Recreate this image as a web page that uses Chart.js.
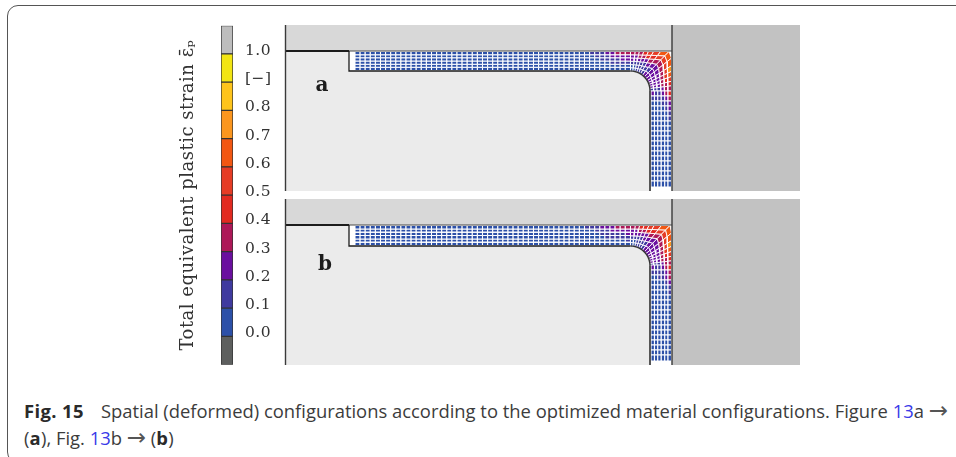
<!DOCTYPE html>
<html>
<head>
<meta charset="utf-8">
<script src="https://cdn.jsdelivr.net/npm/chart.js@4"></script>
<style>
    html, body { margin: 0; padding: 0; width: 956px; height: 457px; overflow: hidden; background: #fff; }
    canvas { position: absolute; }
    #frame { position: absolute; left: 7px; top: 5px; width: 1000px; height: 456px; border: 1.5px solid #555; border-radius: 11px; }
    .caption { position: absolute; left: 24px; font-family: "Open Sans", sans-serif; font-size: 18.4px; color: #3c3c3c; white-space: nowrap; line-height: 22px; }
    .caption a { color: #3a3ae8; text-decoration: none; }
    .caption b { letter-spacing: 0.4px; color: #2a2a2a; }
    .caption i { font-style: normal; font-family: "DejaVu Sans", sans-serif; font-size: 23px; line-height: 20px; color: #555; }
    .caption u { text-decoration: none; display: inline-block; width: 17px; }
</style>
</head>
<body>
<div id="frame"></div>
<canvas id="scale-bar" width="110" height="360" style="left:170px;top:15px"></canvas>
<canvas id="panel-a" width="525" height="176" style="left:280px;top:20px"></canvas>
<canvas id="panel-b" width="525" height="176" style="left:280px;top:194px"></canvas>
<div class="caption" style="top:400px"><b>Fig. 15</b><u></u>Spatial (deformed) configurations according to the optimized material configurations. Figure <a>13</a>a <i>→</i></div>
<div class="caption" style="top:427px">(<b>a</b>), Fig. <a>13</a>b <i>→</i> (<b>b</b>)</div>
<script>
// Colour scale, bottom to top
const binEdges = [-0.1, 0.0, 0.1, 0.2, 0.3, 0.4, 0.5, 0.6, 0.7, 0.8, 0.9, 1.0, 1.1];
const binColors = ['#5d5f5e', '#2c50a8', '#3f3a9f', '#6a0f9f', '#ad1858', '#e22a20', '#e63c25', '#f25712', '#fb961e', '#fec41b', '#f2e513', '#bdbdbd'];
const tickValues = [0.0, 0.1, 0.2, 0.3, 0.4, 0.5, 0.6, 0.7, 0.8, 0.9, 1.0];
const tickLabels = ['0.0', '0.1', '0.2', '0.3', '0.4', '0.5', '0.6', '0.7', '0.8', '[−]', '1.0'];
const scaleTitle = 'Total equivalent plastic strain ε̄ₚ';

// Mesh stations, measured along the strip, the fillet and the leg
const stripX = [69.5, 74.6, 79.7, 84.8, 89.9, 95, 100.1, 105.2, 110.3, 115.4, 120.5, 125.6, 130.7, 135.8, 140.9, 146, 151.1, 156.2,
    161.3, 166.4, 171.5, 176.6, 181.7, 186.8, 191.9, 197, 202.1, 207.2, 212.3, 217.4, 222.5, 227.6, 232.7, 237.8, 242.9, 248, 253.1,
    258.2, 263.3, 268.4, 273.5, 278.6, 283.7, 288.8, 293.9, 299, 304.1, 309.2, 314.3, 319.4, 324.5, 329.6, 334.7, 339.8, 345];
const throughFractions = [0, 0.17, 0.33, 0.5, 0.67, 0.83, 1];
const cornerAngles = [90, 83, 77, 71, 65, 59, 52, 45, 38, 31, 25, 19, 13, 7, 0];
const legY = [100, 95, 90, 85, 80, 75, 70, 65, 60, 55, 50, 45, 40, 35, 30, 25, 20, 15, 10, 4];

// Strain read per mesh cell, first row is the row on the inner boundary
const baseStrain = 0.05;
const stripTailA = [
    [0.05, 0.05, 0.05, 0.05, 0.05, 0.05, 0.05, 0.05, 0.05, 0.05],
    [0.05, 0.05, 0.05, 0.05, 0.05, 0.05, 0.05, 0.05, 0.05, 0.05],
    [0.05, 0.05, 0.05, 0.05, 0.05, 0.05, 0.15, 0.15, 0.15, 0.15],
    [0.05, 0.05, 0.05, 0.05, 0.15, 0.15, 0.15, 0.15, 0.2, 0.2],
    [0.05, 0.05, 0.05, 0.15, 0.15, 0.15, 0.2, 0.2, 0.25, 0.25],
    [0.05, 0.05, 0.15, 0.15, 0.15, 0.25, 0.25, 0.35, 0.35, 0.35]
];
const cornerStrainA = [
    [0.05, 0.05, 0.1, 0.1, 0.15, 0.15, 0.2, 0.25, 0.25, 0.25, 0.25, 0.25, 0.25, 0.15],
    [0.05, 0.05, 0.1, 0.1, 0.15, 0.15, 0.15, 0.2, 0.25, 0.25, 0.25, 0.2, 0.2, 0.15],
    [0.15, 0.15, 0.15, 0.15, 0.15, 0.2, 0.25, 0.25, 0.25, 0.25, 0.25, 0.25, 0.25, 0.15],
    [0.2, 0.2, 0.2, 0.25, 0.25, 0.35, 0.35, 0.35, 0.35, 0.35, 0.35, 0.35, 0.3, 0.25],
    [0.25, 0.25, 0.35, 0.35, 0.45, 0.45, 0.55, 0.55, 0.55, 0.55, 0.55, 0.45, 0.35, 0.35],
    [0.35, 0.35, 0.35, 0.45, 0.55, 0.55, 0.65, 0.65, 0.65, 0.75, 0.65, 0.55, 0.45, 0.35]
];
const legHeadA = [
    [0.25, 0.15, 0.05, 0.05, 0.05, 0.05, 0.05, 0.05],
    [0.15, 0.15, 0.05, 0.05, 0.05, 0.05, 0.05, 0.05],
    [0.15, 0.15, 0.05, 0.05, 0.05, 0.05, 0.05, 0.05],
    [0.25, 0.15, 0.15, 0.05, 0.05, 0.05, 0.05, 0.05],
    [0.35, 0.25, 0.15, 0.15, 0.05, 0.05, 0.05, 0.05],
    [0.45, 0.35, 0.25, 0.25, 0.15, 0.15, 0.05, 0.05]
];
const stripTailB = [
    [0.05, 0.05, 0.05, 0.05, 0.05, 0.05, 0.05, 0.05, 0.05, 0.05],
    [0.05, 0.05, 0.05, 0.05, 0.05, 0.05, 0.05, 0.05, 0.05, 0.15],
    [0.05, 0.05, 0.05, 0.05, 0.05, 0.15, 0.15, 0.15, 0.15, 0.15],
    [0.05, 0.05, 0.05, 0.05, 0.15, 0.15, 0.15, 0.15, 0.15, 0.2],
    [0.05, 0.05, 0.05, 0.15, 0.15, 0.15, 0.2, 0.2, 0.25, 0.25],
    [0.05, 0.15, 0.15, 0.15, 0.25, 0.25, 0.25, 0.35, 0.35, 0.35]
];
const cornerStrainB = [
    [0.05, 0.05, 0.1, 0.15, 0.15, 0.15, 0.2, 0.25, 0.25, 0.25, 0.25, 0.25, 0.25, 0.15],
    [0.05, 0.05, 0.1, 0.15, 0.15, 0.15, 0.2, 0.2, 0.25, 0.25, 0.25, 0.2, 0.2, 0.15],
    [0.15, 0.15, 0.15, 0.15, 0.2, 0.2, 0.25, 0.25, 0.25, 0.25, 0.25, 0.25, 0.25, 0.15],
    [0.2, 0.2, 0.2, 0.25, 0.25, 0.35, 0.35, 0.35, 0.35, 0.35, 0.35, 0.35, 0.35, 0.25],
    [0.25, 0.25, 0.35, 0.35, 0.45, 0.45, 0.55, 0.55, 0.55, 0.55, 0.55, 0.45, 0.35, 0.35],
    [0.35, 0.35, 0.45, 0.45, 0.55, 0.55, 0.65, 0.65, 0.65, 0.75, 0.65, 0.55, 0.45, 0.35]
];
const legHeadB = [
    [0.25, 0.15, 0.05, 0.05, 0.05, 0.05, 0.05, 0.05],
    [0.15, 0.15, 0.05, 0.05, 0.05, 0.05, 0.05, 0.05],
    [0.15, 0.15, 0.15, 0.05, 0.05, 0.05, 0.05, 0.05],
    [0.25, 0.15, 0.15, 0.05, 0.05, 0.05, 0.05, 0.05],
    [0.35, 0.25, 0.25, 0.15, 0.05, 0.05, 0.05, 0.05],
    [0.45, 0.35, 0.35, 0.25, 0.15, 0.15, 0.05, 0.05]
];

const serif = '"DejaVu Serif", serif';

function strainColor(value) {
    for (let i = 0; i < binColors.length; i++) {
        if (value < binEdges[i + 1]) return binColors[i];
    }
    return binColors[binColors.length - 1];
}

function shape(points, color) {
    return { data: points, fill: 'shape', backgroundColor: color, borderWidth: 0, pointRadius: 0, tension: 0 };
}

function cell(points, value, gap) {
    return { data: points, fill: 'shape', backgroundColor: strainColor(value), borderColor: '#fff', borderWidth: gap, pointRadius: 0, tension: 0 };
}

function stroke(points, color, width) {
    return { data: points, fill: false, borderColor: color, borderWidth: width, pointRadius: 0, tension: 0 };
}

function rect(x0, y0, x1, y1) {
    return [{ x: x0, y: y0 }, { x: x1, y: y0 }, { x: x1, y: y1 }, { x: x0, y: y1 }, { x: x0, y: y0 }];
}

function quad(a, b, c, d) {
    return [a, b, c, d, a];
}

// One panel of the deformed configuration, stripBottom is where the strip ends on the inner side
function panelDatasets(stripBottom, stripTail, cornerStrain, legHead) {
    const topY = 140, rightX = 386.5, legLeft = 364.5, filletX = 345, filletY = stripBottom - 20;
    const rows = throughFractions.length - 1;

    const filletArc = cornerAngles.map(deg => ({
        x: filletX + 19.5 * Math.cos(deg * Math.PI / 180),
        y: filletY + 20 * Math.sin(deg * Math.PI / 180)
    }));

    const sets = [
        shape(rect(0, 0, rightX, topY), '#ebebeb'),
        shape(rect(0, topY, rightX, 166), '#d8d8d8'),
        shape(rect(rightX, 0, 514.5, 166), '#c2c2c2'),
        shape([{ x: 63.5, y: topY }, { x: rightX, y: topY }, { x: rightX, y: 0 }, { x: legLeft, y: 0 }, ...filletArc.slice().reverse(),
            { x: 63.5, y: stripBottom }, { x: 63.5, y: topY }], '#fff')
    ];

    // Straight strip, kept clear of the outline
    const stripNode = (i, j) => ({ x: stripX[i], y: stripBottom + 0.5 + (topY - 1 - stripBottom) * throughFractions[j] });
    for (let j = 0; j < rows; j++) {
        for (let i = 0; i < stripX.length - 1; i++) {
            const tail = i - (stripX.length - 1 - stripTail[j].length);
            const value = tail >= 0 ? stripTail[j][tail] : baseStrain;
            sets.push(cell(quad(stripNode(i, j), stripNode(i + 1, j), stripNode(i + 1, j + 1), stripNode(i, j + 1)), value, 1.05));
        }
    }

    // Fillet, rays from the arc out to the outer corner
    const cornerNode = (i, j) => {
        const a = filletArc[i];
        const dx = a.x - filletX, dy = a.y - filletY;
        const reach = Math.min(dx > 0.001 ? (rightX - 0.5 - filletX) / dx : 99, dy > 0.001 ? (topY - 0.5 - filletY) / dy : 99);
        const f = throughFractions[j];
        return { x: a.x + (filletX + dx * reach - a.x) * f, y: a.y + (filletY + dy * reach - a.y) * f };
    };
    for (let j = 0; j < rows; j++) {
        for (let i = 0; i < cornerAngles.length - 1; i++) {
            sets.push(cell(quad(cornerNode(i, j), cornerNode(i + 1, j), cornerNode(i + 1, j + 1), cornerNode(i, j + 1)), cornerStrain[j][i], 0.9));
        }
    }

    // Straight leg down to the cut
    const legNode = (i, j) => ({ x: legLeft + 1 + (rightX - 1.5 - legLeft) * throughFractions[j], y: legY[i] });
    for (let j = 0; j < rows; j++) {
        for (let i = 0; i < legY.length - 1; i++) {
            const value = i < legHead[j].length ? legHead[j][i] : baseStrain;
            sets.push(cell(quad(legNode(i, j), legNode(i + 1, j), legNode(i + 1, j + 1), legNode(i, j + 1)), value, 1.1));
        }
    }

    // Outlines
    sets.push(stroke([{ x: 63.5, y: topY }, { x: rightX, y: topY }], '#4a4a4a', 1));
    sets.push(stroke([{ x: 0, y: topY }, { x: 63.5, y: topY }], '#1c1c1c', 1.8));
    sets.push(stroke([{ x: 63.5, y: topY }, { x: 63.5, y: stripBottom }, { x: filletX, y: stripBottom }], '#1c1c1c', 1.3));
    sets.push(stroke(filletArc, '#333', 1.4));
    sets.push(stroke([{ x: legLeft, y: filletY }, { x: legLeft, y: 0 }], '#555', 2));
    sets.push(stroke([{ x: rightX, y: 166 }, { x: rightX, y: 0 }], '#3a3a3a', 1.4));
    sets.push(stroke([{ x: 0, y: 166 }, { x: 0, y: 0 }], '#3a3a3a', 1.4));

    return sets.reverse(); // first dataset ends up on top
}

function drawPanel(id, letter, letterX, letterY, sets) {
    new Chart(document.getElementById(id), {
        type: 'line',
        data: { datasets: sets },
        options: {
            responsive: false,
            animation: false,
            events: [],
            layout: { padding: 0 },
            plugins: { legend: { display: false }, tooltip: { enabled: false } },
            scales: {
                x: { type: 'linear', display: false, min: -5.5, max: 519.5 },
                y: { type: 'linear', display: false, min: -5, max: 171 }
            }
        },
        plugins: [{
            id: 'panelLetter',
            afterDatasetsDraw(chart) {
                const ctx = chart.ctx;
                ctx.save();
                ctx.font = 'bold 20px ' + serif;
                ctx.fillStyle = '#1c1c1c';
                ctx.textAlign = 'center';
                ctx.textBaseline = 'middle';
                ctx.fillText(letter, chart.scales.x.getPixelForValue(letterX), chart.scales.y.getPixelForValue(letterY));
                ctx.restore();
            }
        }]
    });
}

// Colour bar, one floating bar per bin
new Chart(document.getElementById('scale-bar'), {
    type: 'bar',
    data: {
        labels: [''],
        datasets: binColors.map((color, i) => ({
            data: [[binEdges[i], binEdges[i + 1]]],
            backgroundColor: color,
            borderColor: '#333',
            borderWidth: 1,
            borderSkipped: false,
            barPercentage: 1,
            categoryPercentage: 1,
            grouped: false
        }))
    },
    options: {
        responsive: false,
        animation: false,
        events: [],
        layout: { padding: { top: 10.7, bottom: 10.3 } },
        plugins: { legend: { display: false }, tooltip: { enabled: false } },
        scales: {
            x: { display: false },
            y: {
                position: 'right',
                min: -0.1,
                max: 1.1,
                grid: { display: false },
                border: { display: false },
                afterBuildTicks(axis) { axis.ticks = tickValues.map(value => ({ value })); },
                afterFit(axis) { axis.width = 47; axis.paddingTop = 0; axis.paddingBottom = 0; },
                ticks: {
                    autoSkip: false,
                    padding: 4,
                    labelOffset: -3,
                    color: '#333',
                    font: { family: serif, size: 15.5 },
                    callback: (value, i) => tickLabels[i]
                }
            },
            title: {
                type: 'linear',
                position: 'left',
                min: 0,
                max: 1,
                grid: { display: false },
                border: { display: false },
                ticks: { display: false },
                afterFit(axis) { axis.width = 51; axis.paddingTop = 0; axis.paddingBottom = 0; },
                title: { display: true, text: scaleTitle, color: '#333', padding: { top: 8, bottom: 0 }, font: { family: serif, size: 18 } }
            }
        }
    },
    plugins: [{
        id: 'wideText',
        beforeDraw(chart) { chart.ctx.letterSpacing = '0.5px'; }
    }]
});

drawPanel('panel-a', 'a', 36.5, 105, panelDatasets(120, stripTailA, cornerStrainA, legHeadA));
drawPanel('panel-b', 'b', 39.5, 100, panelDatasets(119, stripTailB, cornerStrainB, legHeadB));
</script>
</body>
</html>
